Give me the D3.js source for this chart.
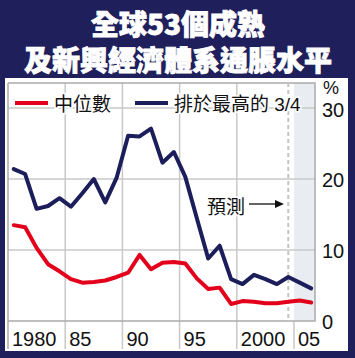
<!DOCTYPE html>
<html><head><meta charset="utf-8">
<script src="https://cdn.jsdelivr.net/npm/d3@7"></script>
<style>
html,body{margin:0;padding:0;background:#1f1f5b;}
svg{display:block;}
</style></head>
<body>
<script>
const years = [1980,1981,1982,1983,1984,1985,1986,1987,1988,1989,1990,1991,1992,1993,1994,1995,1996,1997,1998,1999,2000,2001,2002,2003,2004,2005,2006];
const median = [13.5,13.2,10.3,8.0,7.0,5.9,5.4,5.5,5.7,6.2,6.8,9.3,7.3,8.2,8.3,8.1,6.0,4.5,4.7,2.4,2.8,2.7,2.5,2.5,2.7,2.9,2.6];
const topQuartile = [21.4,20.7,15.8,16.2,17.3,16.1,18.0,20.0,16.7,20.2,26.1,26.0,27.1,22.3,23.8,20.3,14.5,8.8,10.6,5.9,5.2,6.5,5.9,5.2,6.2,5.4,4.6];
const xTicks = [1980,1985,1990,1995,2000,2005];
const xTickLabels = ["1980","85","90","95","2000","05"];
const yTicks = [0,10,20,30];
const titleLines = ["全球53個成熟","及新興經濟體系通脹水平"];
const legendLabels = ["中位數","排於最高的 3/4"];
const forecastLabel = "預測";
const forecastYear = 2004;

const W = 355, H = 358;
const NAVY = "#1f1f5b", LINE_NAVY = "#1b1e5a", RED = "#e2001b", GRID = "#c8c8c8";
const svg = d3.select("body").append("svg").attr("width", W).attr("height", H);

svg.append("rect").attr("width", W).attr("height", H).attr("fill", NAVY);
svg.append("rect").attr("x", 5).attr("y", 78).attr("width", 343).attr("height", 273).attr("fill", "#fff");

// title
svg.append("g").selectAll("text").data(titleLines).join("text")
  .attr("x", 178).attr("y", (d,i) => 23 + i*36)
  .attr("text-anchor", "middle").attr("dominant-baseline", "central")
  .attr("fill", "#fff").attr("stroke", "#fff").attr("stroke-width", 0.8)
  .attr("font-family", "'Noto Sans CJK TC','Noto Sans CJK SC',sans-serif")
  .attr("font-weight", 900).attr("font-size", 28)
  .text(d => d);

const x = d3.scaleLinear().domain([1980, 2005]).range([8, 294]);
const y = d3.scaleLinear().domain([0, 30]).range([321, 108]);
const plotTop = 83, plotRight = 315, axisBottom = 349;

// forecast shading
svg.append("rect").attr("x", x(2005)).attr("y", plotTop)
  .attr("width", plotRight - x(2005)).attr("height", y(0) - plotTop).attr("fill", "#e9edf1");

// horizontal grid
svg.append("g").selectAll("line").data(yTicks.filter(d => d > 0)).join("line")
  .attr("x1", 8).attr("x2", plotRight).attr("y1", d => y(d)).attr("y2", d => y(d))
  .attr("stroke", GRID).attr("stroke-width", 1.5);

// vertical grid / ticks
svg.append("g").selectAll("line").data(xTicks).join("line")
  .attr("x1", d => x(d)).attr("x2", d => x(d))
  .attr("y1", d => d === 2005 ? y(0) : plotTop).attr("y2", axisBottom)
  .attr("stroke", d => d === 1980 ? "#aaa" : GRID).attr("stroke-width", 1.5);

// frame
svg.append("path")
  .attr("d", `M${x(1980)},${y(0)}H${plotRight}V${plotTop}H${x(1980)}`)
  .attr("fill", "none").attr("stroke", "#aaa").attr("stroke-width", 1.5);

// forecast dashed line
const fx = x(forecastYear + 0.5);
svg.append("line").attr("x1", fx).attr("x2", fx).attr("y1", plotTop).attr("y2", y(0))
  .attr("stroke", "#c4c4c4").attr("stroke-width", 2).attr("stroke-dasharray", "4,3");

// x labels
svg.append("g").selectAll("text").data(xTicks).join("text")
  .attr("x", d => x(d) + 4).attr("y", 346)
  .attr("font-family", "'Liberation Sans',Arial,sans-serif").attr("font-size", 20)
  .attr("fill", "#111").text((d,i) => xTickLabels[i]);

// y labels
svg.append("g").selectAll("text").data(yTicks).join("text")
  .attr("x", 322).attr("y", d => y(d) + (d === 30 ? 2 : 1)).attr("dominant-baseline", "central")
  .attr("font-family", "'Liberation Sans',Arial,sans-serif").attr("font-size", 20)
  .attr("fill", "#111").text(d => d);
svg.append("text").attr("x", 323).attr("y", 88).attr("dominant-baseline", "central")
  .attr("font-family", "'Liberation Sans',Arial,sans-serif").attr("font-size", 18)
  .attr("fill", "#111").text("%");

// lines
const line = d3.line().x((d,i) => x(years[i] + 0.5)).y(d => y(d));
svg.append("path").datum(median).attr("d", line)
  .attr("fill", "none").attr("stroke", RED).attr("stroke-width", 4)
  .attr("stroke-linejoin", "round").attr("stroke-linecap", "round");
svg.append("path").datum(topQuartile).attr("d", line)
  .attr("fill", "none").attr("stroke", LINE_NAVY).attr("stroke-width", 4)
  .attr("stroke-linejoin", "round").attr("stroke-linecap", "round");

// legend
const legend = [{c: RED, x: 15}, {c: LINE_NAVY, x: 135}];
legend.forEach((l, i) => {
  svg.append("line").attr("x1", l.x).attr("x2", l.x + 33).attr("y1", 103).attr("y2", 103)
    .attr("stroke", l.c).attr("stroke-width", 4);
  svg.append("text").attr("x", l.x + 39).attr("y", 104).attr("dominant-baseline", "central")
    .attr("font-family", "'Liberation Sans','Noto Sans CJK TC',sans-serif").attr("font-size", 19)
    .attr("fill", "#111").attr("stroke", "#fff").attr("stroke-width", 3).attr("paint-order", "stroke")
    .text(legendLabels[i]);
});

// forecast annotation
svg.append("text").attr("x", 207).attr("y", 205).attr("dominant-baseline", "central")
  .attr("font-family", "'Noto Sans CJK TC',sans-serif").attr("font-size", 19)
  .attr("fill", "#111").attr("stroke", "#fff").attr("stroke-width", 3).attr("paint-order", "stroke")
  .text(forecastLabel);
svg.append("line").attr("x1", 249).attr("x2", 276).attr("y1", 204).attr("y2", 204)
  .attr("stroke", "#111").attr("stroke-width", 1.3);
svg.append("path").attr("d", "M284,204L275,200L275,208Z").attr("fill", "#111");
</script>
</body></html>
